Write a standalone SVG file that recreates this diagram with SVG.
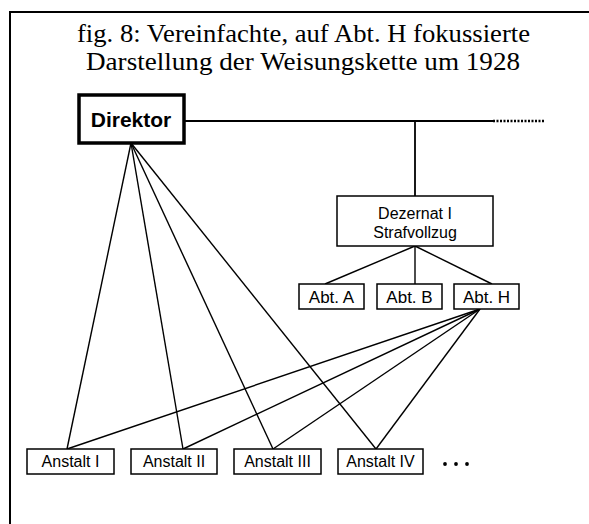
<svg xmlns="http://www.w3.org/2000/svg" width="589" height="524" viewBox="0 0 589 524">
<style>
.box{fill:#fff;stroke:#000;stroke-width:1.5}
.lbl{font-family:"Liberation Sans",Arial,sans-serif;text-anchor:middle;fill:#000}
.dez{font-size:16px}
.abt{font-size:17px}
.ans{font-size:16px}
.dir{font-size:21px;font-weight:bold}
.title{font-family:"Liberation Serif","Times New Roman",serif;font-size:25.4px;text-anchor:middle;fill:#000}
.ln{stroke:#000;stroke-width:1.4;fill:none}
</style>
<rect width="589" height="524" fill="#fff"/>
<path d="M10,524 V12 H589" fill="none" stroke="#000" stroke-width="2"/>
<text class="title" x="303.5" y="41.5" textLength="453" lengthAdjust="spacingAndGlyphs">fig. 8: Vereinfachte, auf Abt. H fokussierte</text>
<text class="title" x="303" y="70" textLength="434" lengthAdjust="spacingAndGlyphs">Darstellung der Weisungskette um 1928</text>
<g id="connectors">
<line class="ln" x1="184" y1="121" x2="493" y2="121" style="stroke-width:1.8"/>
<line class="ln" x1="493" y1="121" x2="545" y2="121" style="stroke-width:2.5;stroke-dasharray:2,1.5"/>
<line class="ln" x1="415" y1="121" x2="415" y2="196" style="stroke-width:1.8"/>
<line class="ln" x1="415" y1="246" x2="325" y2="284"/>
<line class="ln" x1="415" y1="246" x2="415" y2="284"/>
<line class="ln" x1="415" y1="246" x2="492" y2="284"/>
<line class="ln" x1="131" y1="143" x2="67" y2="449"/>
<line class="ln" x1="131" y1="143" x2="183" y2="449"/>
<line class="ln" x1="131" y1="143" x2="273" y2="449"/>
<line class="ln" x1="131" y1="143" x2="376" y2="449"/>
<line class="ln" x1="480" y1="309" x2="67" y2="449"/>
<line class="ln" x1="480" y1="309" x2="183" y2="449"/>
<line class="ln" x1="480" y1="309" x2="273" y2="449"/>
<line class="ln" x1="480" y1="309" x2="376" y2="449"/>
</g>
<g id="direktor">
<rect x="79" y="95" width="105" height="48" fill="#fff" stroke="#000" stroke-width="3.5"/>
<text class="lbl dir" x="131" y="127">Direktor</text>
</g>
<g id="dezernat">
<rect class="box" x="337" y="196" width="156" height="50"/>
<text class="lbl dez" x="415" y="219">Dezernat I<tspan x="415" dy="19">Strafvollzug</tspan></text>
</g>
<g id="abtA">
<rect class="box" x="299" y="284" width="65" height="25"/>
<text class="lbl abt" x="331.5" y="303">Abt. A</text>
</g>
<g id="abtB">
<rect class="box" x="377" y="284" width="65" height="25"/>
<text class="lbl abt" x="409.5" y="303">Abt. B</text>
</g>
<g id="abtH">
<rect class="box" x="454" y="284" width="65" height="25"/>
<text class="lbl abt" x="486.5" y="303">Abt. H</text>
</g>
<g id="anstalt1">
<rect class="box" x="27" y="449" width="87" height="25"/>
<text class="lbl ans" x="70.5" y="467">Anstalt I</text>
</g>
<g id="anstalt2">
<rect class="box" x="131" y="449" width="86" height="25"/>
<text class="lbl ans" x="174" y="467">Anstalt II</text>
</g>
<g id="anstalt3">
<rect class="box" x="234" y="449" width="87" height="25"/>
<text class="lbl ans" x="277.5" y="467">Anstalt III</text>
</g>
<g id="anstalt4">
<rect class="box" x="338" y="449" width="85" height="25"/>
<text class="lbl ans" x="380.5" y="467">Anstalt IV</text>
</g>
<g id="dots" fill="#000">
<circle cx="445" cy="464" r="1.9"/>
<circle cx="456" cy="464" r="1.9"/>
<circle cx="467" cy="464" r="1.9"/>
</g>
</svg>
